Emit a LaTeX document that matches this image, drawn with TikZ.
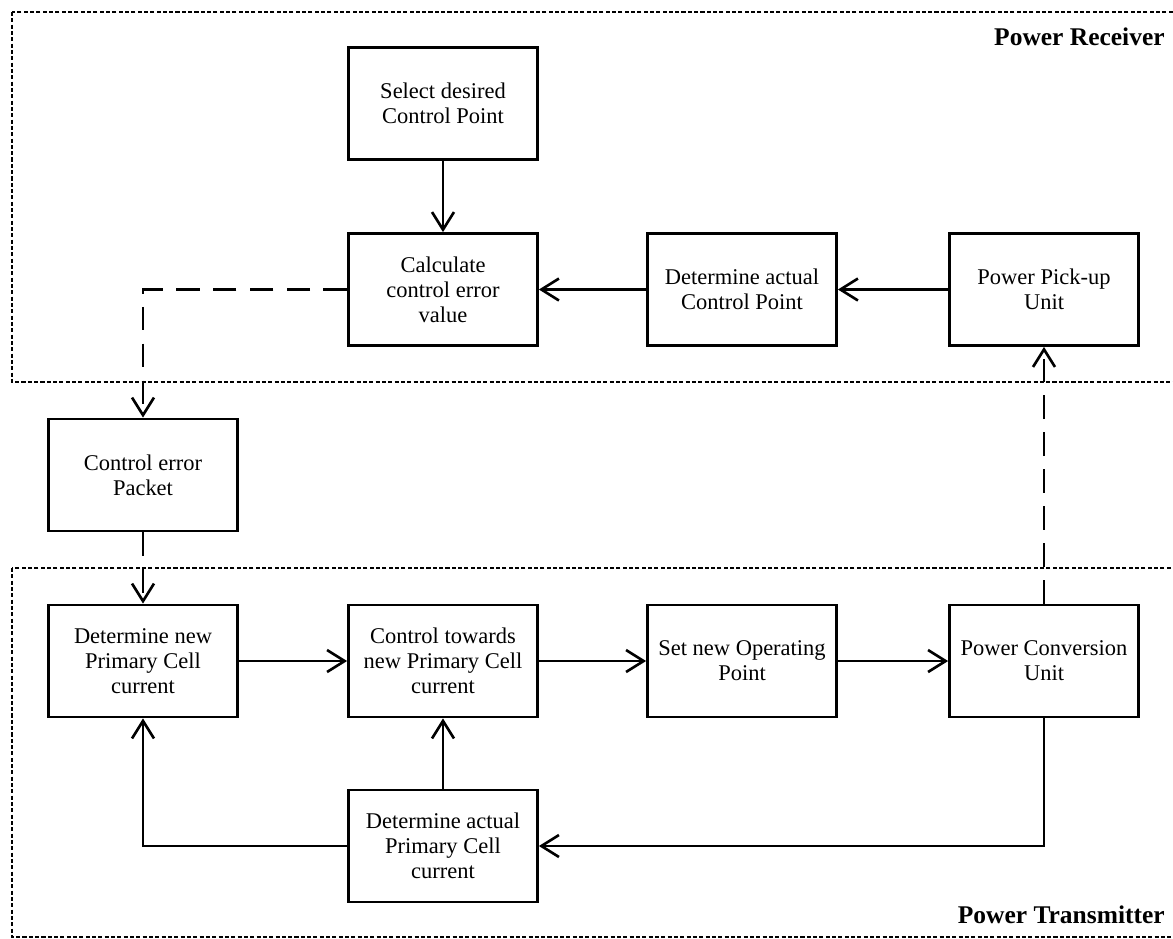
\documentclass[tikz,border=0pt]{standalone}
\usepackage{fontspec}
\setmainfont{Liberation Serif}
\usetikzlibrary{arrows.meta}

\tikzset{
  blockbox/.style={draw, line width=1.6pt, minimum width=3.78cm, minimum height=2.24cm,
    align=center, inner sep=2pt, font=\fontsize{12.8}{14.2}\selectfont},
  flow/.style={line width=1.5pt, -{Straight Barb[length=10pt,width=12.5pt,line width=1.5pt]}},
  dashline/.style={dash pattern=on 13.5pt off 7.5pt},
  areabox/.style={line width=1.2pt, dash pattern=on 2.3pt off 1.3pt},
  arealabel/.style={inner sep=0pt, font=\fontsize{14.5}{16}\selectfont\bfseries}
}

\begin{document}
\begin{tikzpicture}[x=0.02cm,y=-0.02cm]
                \useasboundingbox (0,0) rectangle (1173,938);
                \clip (0,0) rectangle (1173,938);
                % receiver and transmitter areas
                \draw [areabox] (12,12) rectangle (1190,382);
                \draw [areabox] (12,568) rectangle (1190,937);
                \node [arealabel, anchor=base east] (rxlabel) at (1165,45) {Power Receiver};
                \node [arealabel, anchor=base east] (txlabel) at (1165,923) {Power Transmitter};
                % blocks
                \node [blockbox] (select) at (443,103.5) {Select desired\\Control Point};
                \node [blockbox] (calc) at (443,289.5) {Calculate\\control error\\value};
                \node [blockbox] (actcp) at (742,289.5) {Determine actual\\Control Point};
                \node [blockbox] (pickup) at (1044,289.5) {Power Pick-up\\Unit};
                \node [blockbox] (packet) at (143,475) {Control error\\Packet};
                \node [blockbox] (newcur) at (143,661) {Determine new\\Primary Cell\\current};
                \node [blockbox] (towards) at (443,661) {Control towards\\new Primary Cell\\current};
                \node [blockbox] (setop) at (742,661) {Set new Operating\\Point};
                \node [blockbox] (conv) at (1044,661) {Power Conversion\\Unit};
                \node [blockbox] (actcur) at (443,846) {Determine actual\\Primary Cell\\current};
                % connectors
                \draw [flow] (select) -- (calc);
                \draw [flow] (actcp) -- (calc);
                \draw [flow] (pickup) -- (actcp);
                \draw [flow, dashline] (calc.west) -| (packet.north);
                \draw [flow, dashline] (packet) -- (newcur);
                \draw [flow] (newcur) -- (towards);
                \draw [flow] (towards) -- (setop);
                \draw [flow] (setop) -- (conv);
                \draw [flow, dashline] (conv) -- (pickup);
                \draw [flow] (conv.south) |- (actcur.east);
                \draw [flow] (actcur.west) -| (newcur.south);
                \draw [flow] (actcur) -- (towards);
            \end{tikzpicture}
\end{document}
